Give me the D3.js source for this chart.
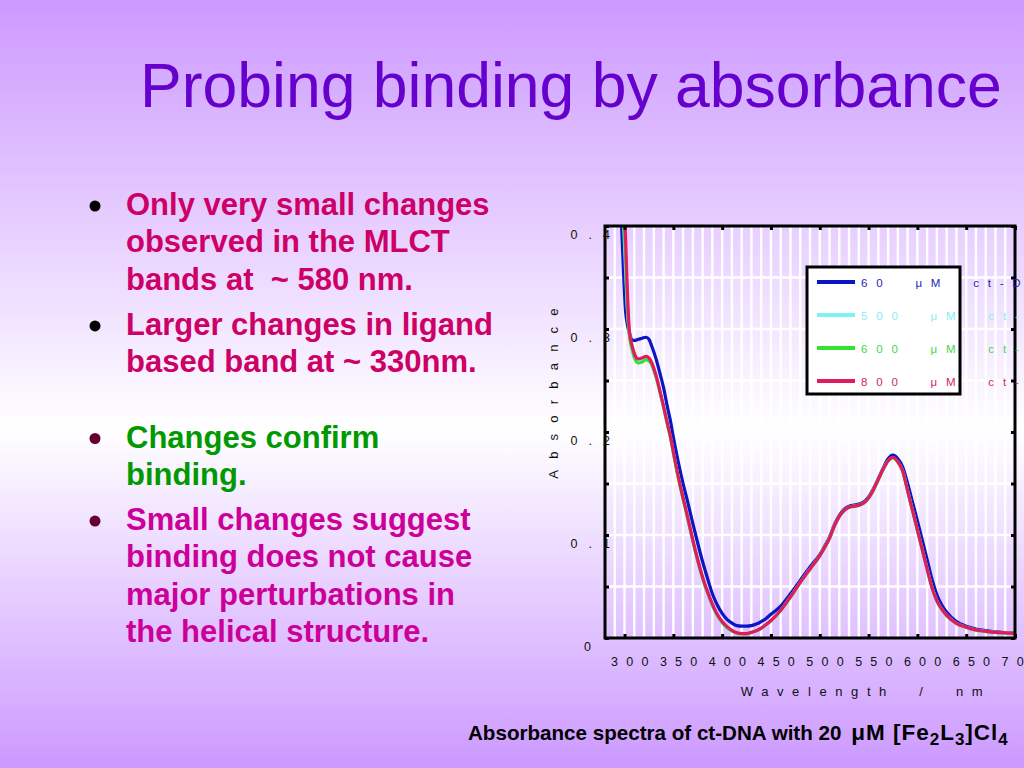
<!DOCTYPE html>
<html><head><meta charset="utf-8">
<script src="https://cdn.jsdelivr.net/npm/d3@7"></script>
<style>html,body{margin:0;padding:0;overflow:hidden}svg{display:block}</style>
</head><body>
<svg id="c" width="1024" height="768"></svg>
<script>
// ---------- data ----------
const wavelengths = [294,297,299,301,303,305,308,311,314,318,322,325,328,332,336,340,344,347,350,355,360,365,370,375,380,385,390,395,400,405,410,415,420,425,430,435,440,445,450,460,470,480,490,500,505,510,515,520,525,530,535,540,545,550,555,560,565,570,575,580,585,590,595,600,605,610,615,620,625,630,640,650,660,670,680,690,700];
const abs60  = [0.47,0.40,0.355,0.318,0.304,0.296,0.289,0.289,0.290,0.291,0.292,0.290,0.283,0.272,0.258,0.243,0.224,0.211,0.195,0.171,0.150,0.131,0.111,0.092,0.074,0.058,0.043,0.032,0.024,0.018,0.0145,0.012,0.0115,0.0115,0.012,0.0135,0.016,0.019,0.023,0.031,0.043,0.056,0.069,0.081,0.089,0.098,0.110,0.119,0.125,0.128,0.129,0.130,0.132,0.137,0.145,0.155,0.165,0.174,0.1775,0.174,0.166,0.150,0.132,0.114,0.095,0.076,0.057,0.042,0.032,0.025,0.016,0.0115,0.0088,0.0072,0.006,0.0053,0.0048];
const abs500 = [0.49,0.44,0.405,0.36,0.318,0.296,0.282,0.273,0.270,0.271,0.272,0.271,0.266,0.255,0.240,0.224,0.207,0.195,0.180,0.156,0.135,0.115,0.094,0.075,0.058,0.044,0.032,0.022,0.015,0.010,0.007,0.0048,0.0042,0.0042,0.0055,0.007,0.0095,0.013,0.017,0.027,0.040,0.054,0.067,0.080,0.088,0.097,0.109,0.118,0.124,0.127,0.128,0.129,0.131,0.136,0.144,0.154,0.164,0.172,0.175,0.171,0.162,0.143,0.124,0.105,0.086,0.067,0.049,0.036,0.028,0.022,0.0143,0.0105,0.0078,0.0065,0.0055,0.005,0.0045];
const abs600 = [0.49,0.45,0.415,0.37,0.322,0.294,0.279,0.270,0.267,0.268,0.270,0.269,0.265,0.254,0.240,0.224,0.207,0.195,0.180,0.156,0.135,0.115,0.094,0.075,0.058,0.044,0.032,0.022,0.015,0.010,0.007,0.0048,0.0041,0.0041,0.0054,0.007,0.0094,0.0128,0.0168,0.0268,0.0398,0.0538,0.0668,0.0798,0.0878,0.0968,0.1088,0.1178,0.1238,0.1268,0.1278,0.1288,0.1308,0.1358,0.1438,0.1538,0.1638,0.1718,0.1752,0.1708,0.1618,0.1428,0.1238,0.1048,0.0858,0.0668,0.0488,0.0358,0.0278,0.0218,0.0142,0.0104,0.0077,0.0064,0.0054,0.0049,0.0044];
const abs800 = [0.50,0.46,0.43,0.39,0.335,0.298,0.283,0.274,0.271,0.272,0.2735,0.272,0.267,0.256,0.241,0.225,0.208,0.196,0.181,0.157,0.136,0.116,0.095,0.076,0.059,0.045,0.033,0.023,0.016,0.011,0.0075,0.005,0.0042,0.0042,0.0055,0.007,0.0095,0.013,0.017,0.027,0.040,0.054,0.067,0.080,0.088,0.097,0.109,0.118,0.124,0.127,0.128,0.129,0.131,0.136,0.144,0.154,0.164,0.172,0.1755,0.171,0.162,0.143,0.124,0.105,0.086,0.067,0.049,0.036,0.028,0.022,0.0143,0.0105,0.0078,0.0065,0.0055,0.005,0.0045];
const seriesLabels = ["60  \u03bcM  ct-DNA","500  \u03bcM  ct-DNA","600  \u03bcM  ct-DNA","800  \u03bcM  ct-DNA"];
const seriesValues = [abs60, abs500, abs600, abs800];
const xTickValues = [300,350,400,450,500,550,600,650,700];
const yTickValues = [0,0.1,0.2,0.3,0.4];
const xGridStep = 10, yGridStep = 0.05;
const titleText = "Probing binding by absorbance";
const bullets = [
  {lines:["Only very small changes","observed in the MLCT","bands at  ~ 580 nm."], kind:0},
  {lines:["Larger changes in ligand","based band at ~ 330nm."], kind:0},
  {lines:["Changes confirm","binding."], kind:1},
  {lines:["Small changes suggest","binding does not cause","major perturbations in","the helical structure."], kind:2}
];
const xAxisTitle = "Wavelength  /  nm";
const yAxisTitle = "Absorbance";

// ---------- styling ----------
const lineColors = ["#0a16c4","#7df2f4","#33e233","#e21c5c"];
const textColors = ["#1c24b8","#86eef4","#44d844","#d42466"];
const bulletTextColors = ["#cc0066","#009900","#cc0099"];
const bulletDotColors = ["#000000","#660033","#660033"];
const FONT = "'Liberation Sans', Arial, Helvetica, sans-serif";

const svg = d3.select("#c");
const defs = svg.append("defs");
const grad = defs.append("linearGradient").attr("id","bg").attr("x1",0).attr("y1",0).attr("x2",0).attr("y2",1);
grad.append("stop").attr("offset","0").attr("stop-color","#cc99ff");
grad.append("stop").attr("offset","0.56").attr("stop-color","#ffffff");
grad.append("stop").attr("offset","1").attr("stop-color","#cc99ff");
svg.append("rect").attr("width",1024).attr("height",768).attr("fill","url(#bg)");

// title
svg.append("text").attr("x",140).attr("y",107).attr("font-family",FONT).attr("font-size",62.5)
  .attr("fill","#6600cc").text(titleText);

// bullets
let by = 215;
const lineH = 37.3;
const bulletGaps = [0, 8, 38, 8];
bullets.forEach((b,i)=>{
  by += bulletGaps[i];
  svg.append("circle").attr("cx",95).attr("cy",by-9).attr("r",5.5).attr("fill",bulletDotColors[b.kind]);
  b.lines.forEach((ln,j)=>{
    svg.append("text").attr("x",126).attr("y",by + j*lineH).attr("font-family",FONT)
      .attr("font-weight","bold").attr("font-size",31).attr("fill",bulletTextColors[b.kind])
      .style("white-space","pre").text(ln);
  });
  by += b.lines.length*lineH;
});

// ---------- chart ----------
const L=605, R=1015, T=226, B=638;
const x = d3.scaleLinear().domain([280,700]).range([L,R]);
const y = d3.scaleLinear().domain([0,0.4]).range([B,T]);

const g = svg.append("g");
g.append("g").selectAll("line").data(d3.range(290,700,xGridStep)).join("line")
  .attr("x1",d=>x(d)).attr("x2",d=>x(d)).attr("y1",T).attr("y2",B)
  .attr("stroke","#ffffff").attr("stroke-width",2.4);
g.append("g").selectAll("line").data(d3.range(1,8).map(i=>i*yGridStep)).join("line")
  .attr("x1",L).attr("x2",R).attr("y1",d=>y(d)).attr("y2",d=>y(d))
  .attr("stroke","#ffffff").attr("stroke-width",2.4);

defs.append("clipPath").attr("id","plotclip").append("rect").attr("x",L).attr("y",T).attr("width",R-L).attr("height",B-T);

const line = d3.line().x(d=>x(d[0])).y(d=>y(d[1])).curve(d3.curveMonotoneX);
const curves = g.append("g").attr("clip-path","url(#plotclip)");
seriesValues.forEach((vals,i)=>{
  curves.append("path").datum(wavelengths.map((w,k)=>[w,vals[k]]))
    .attr("d",line).attr("fill","none").attr("stroke",lineColors[i]).attr("stroke-width",3.2)
    .attr("stroke-linejoin","round");
});

// axes (ticks inward)
const tickSel = d3.range(0,9).map(i=>i*yGridStep);
const axL = d3.axisRight(y).tickValues(tickSel).tickSize(4).tickFormat("");
const axR = d3.axisLeft(y).tickValues(tickSel).tickSize(4).tickFormat("");
const axT = d3.axisBottom(x).tickValues(xTickValues).tickSize(4).tickFormat("");
const axB = d3.axisTop(x).tickValues(xTickValues).tickSize(4).tickFormat("");
[[axL,`translate(${L},0)`],[axR,`translate(${R},0)`],[axT,`translate(0,${T})`],[axB,`translate(0,${B})`]].forEach(([a,t])=>{
  const s = g.append("g").attr("transform",t).call(a);
  s.select(".domain").remove();
  s.selectAll(".tick line").attr("stroke","#000").attr("stroke-width",3);
});
g.append("rect").attr("x",L).attr("y",T).attr("width",R-L).attr("height",B-T)
  .attr("fill","none").attr("stroke","#000").attr("stroke-width",3);

function natWidth(str,size){
  const t = svg.append("text").attr("font-family",FONT).attr("font-size",size).text(str);
  const w = t.node().getComputedTextLength(); t.remove(); return w;
}
// y tick labels
yTickValues.forEach(v=>{
  const s = v===0 ? "0" : d3.format(".1f")(v);
  const w = natWidth(s,12.5);
  svg.append("text").attr("x",(v===0?591:588)-w).attr("y",y(v)+12.5).attr("font-family",FONT).attr("font-size",12.5)
    .attr("letter-spacing",11).attr("fill","#111").text(s);
});
// x tick labels
xTickValues.forEach(v=>{
  const s = String(v);
  const w = natWidth(s,12.5);
  svg.append("text").attr("x",x(v)-w/2-3).attr("y",666).attr("font-family",FONT).attr("font-size",12.5)
    .attr("letter-spacing",8.2).attr("fill","#111").text(s);
});
// axis titles
svg.append("text").attr("x",866).attr("y",696).attr("text-anchor","middle").attr("font-family",FONT)
  .attr("font-size",13).attr("letter-spacing",8.6).attr("fill","#111").style("white-space","pre")
  .text(xAxisTitle);
svg.append("text").attr("transform","translate(558,388) rotate(-90)").attr("text-anchor","middle")
  .attr("font-family",FONT).attr("font-size",13).attr("letter-spacing",11.2).attr("fill","#111").text(yAxisTitle);

// legend
const lg = svg.append("g");
lg.append("rect").attr("x",807).attr("y",267).attr("width",153).attr("height",127)
  .attr("fill","#ffffff").attr("stroke","#000").attr("stroke-width",3);
const legY = [282,315,348,381];
seriesLabels.forEach((lab,i)=>{
  lg.append("line").attr("x1",817).attr("x2",855).attr("y1",legY[i]).attr("y2",legY[i])
    .attr("stroke",lineColors[i]).attr("stroke-width",4);
  lg.append("text").attr("x",861).attr("y",legY[i]+4.5).attr("font-family",FONT).attr("font-size",11.5)
    .attr("letter-spacing",8.8).attr("fill",textColors[i]).style("white-space","pre").text(lab);
});

// caption
const cap = svg.append("text").attr("x",468).attr("y",740).attr("font-family",FONT).attr("font-weight","bold")
  .attr("font-size",20.6).attr("fill","#000").style("white-space","pre");
cap.append("tspan").text("Absorbance spectra of ct-DNA with 20 ");
const capTail = [["\u03bcM [Fe",0,22.5,4],["2",5,17,0],["L",-5,22.5,0],["3",5,17,0],["]Cl",-5,22.5,0],["4",5,17,0]];
capTail.forEach(([t,dy,fs,dx])=>{
  cap.append("tspan").attr("dx",dx).attr("dy",dy).attr("font-size",fs).attr("letter-spacing",1).text(t);
});
</script>
</body></html>
